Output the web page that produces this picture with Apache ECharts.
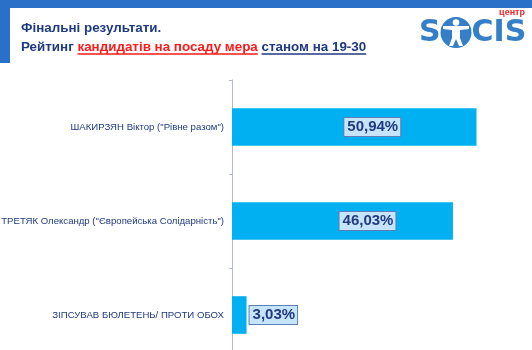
<!DOCTYPE html>
<html><head><meta charset="utf-8">
<script src="https://cdn.jsdelivr.net/npm/echarts@6/dist/echarts.min.js"></script>
<style>html,body{margin:0;padding:0;background:#fff}#c{width:532px;height:350px}</style>
</head><body><div id="c"></div>
<script>
const categories = ['ШАКИРЗЯН Віктор ("Рівне разом")', 'ТРЕТЯК Олександр ("Європейська Солідарність")', 'ЗІПСУВАВ БЮЛЕТЕНЬ/ ПРОТИ ОБОХ'];
const values = [50.94, 46.03, 3.03];
const valueLabels = ['50,94%', '46,03%', '3,03%'];
const titleLine1 = 'Фінальні результати.';
const titleParts = ['Рейтинг ', 'кандидатів на посаду мера', ' станом на 19-30'];

const navy = '#1f3a80';
const FF = '"Liberation Sans", Arial, sans-serif';
const LF = '"DejaVu Sans", sans-serif';
const ctx = document.createElement('canvas').getContext('2d');
const tSize = 13.4;
ctx.font = 'bold ' + tSize + 'px ' + FF;
const w0 = ctx.measureText(titleParts[0]).width;
const w1 = ctx.measureText(titleParts[1]).width;
const wsp = ctx.measureText(' ').width;
const w2 = ctx.measureText(titleParts[2]).width;
const x0 = 21, yL2 = 47;

const labelOffsets = [[18,0],[25,0],[0,0]];
const chart = echarts.init(document.getElementById('c'), null, {renderer:'canvas'});
const textStyleBase = {fontFamily:FF, fontWeight:'bold', fontSize:tSize};
const logoBlue = '#347fc7';
chart.setOption({
  animation:false,
  grid:{left:232, right:12, top:80, height:282, containLabel:false, outerBoundsMode:'none'},
  xAxis:{type:'value', min:0, max:60, show:false},
  yAxis:{type:'category', data:categories, inverse:true,
    axisLine:{show:true, lineStyle:{color:'#b4b8cc', width:1}},
    axisTick:{show:true, length:3, inside:false, lineStyle:{color:'#b4b8cc'}},
    axisLabel:{color:navy, fontSize:9.6, fontFamily:FF, margin:8},
    splitLine:{show:false}},
  series:[{type:'bar', barWidth:'40%',
    itemStyle:{color:'#00b0f0'},
    data: values.map((v,i)=>({value:v,
      label:{show:true, position: i===2 ? 'right' : 'inside', distance:3, offset:labelOffsets[i],
        formatter: valueLabels[i],
        color:navy, fontWeight:'bold', fontSize:15, fontFamily:FF,
        backgroundColor:'#c6e4fb', borderColor:'#5b7fb8', borderWidth:1, padding:[2,2,1,3]}}))
  }],
  graphic:[
    {type:'rect', shape:{x:0,y:0,width:532,height:8}, style:{fill:'#2a6fc8'}},
    {type:'rect', shape:{x:0,y:0,width:10,height:63}, style:{fill:'#2a6fc8'}},
    {type:'text', x:x0, y:28, style:Object.assign({text:titleLine1, fill:navy, textVerticalAlign:'middle'}, textStyleBase)},
    {type:'text', x:x0, y:yL2, style:Object.assign({text:titleParts[0], fill:navy, textVerticalAlign:'middle'}, textStyleBase)},
    {type:'text', x:x0+w0, y:yL2, style:Object.assign({text:titleParts[1], fill:'#ff1a1a', textVerticalAlign:'middle'}, textStyleBase)},
    {type:'text', x:x0+w0+w1, y:yL2, style:Object.assign({text:titleParts[2], fill:navy, textVerticalAlign:'middle'}, textStyleBase)},
    {type:'line', shape:{x1:x0+w0, y1:yL2+7, x2:x0+w0+w1, y2:yL2+7}, style:{stroke:'#ff1a1a', lineWidth:1.5}},
    {type:'line', shape:{x1:x0+w0+w1+wsp, y1:yL2+7, x2:x0+w0+w1+w2, y2:yL2+7}, style:{stroke:navy, lineWidth:1.5}},
    {type:'text', x:525, y:13, style:{text:'центр', fill:'#e8262a', font:'bold 9px ' + FF, textAlign:'right', textVerticalAlign:'middle'}},
    {type:'text', x:440.5, y:33, style:{text:'S', fill:logoBlue, font:'bold 30px ' + LF, textAlign:'right', textVerticalAlign:'middle'}},
    {type:'circle', shape:{cx:456, cy:32.5, r:15.5}, style:{fill:logoBlue}},
    {type:'circle', shape:{cx:456, cy:22.5, r:3.3}, style:{fill:'#fff'}},
    {type:'polygon', shape:{points:[[443,26],[469,26],[469,29],[460,30],[460,38],[463,46],[459,46],[456,39],[453,46],[449,46],[452,38],[452,30],[443,29]]}, style:{fill:'#fff'}},
    {type:'text', x:471.5, y:33, style:{text:'CIS', fill:logoBlue, font:'bold 30px ' + LF, textAlign:'left', textVerticalAlign:'middle'}}
  ]
});
</script></body></html>
